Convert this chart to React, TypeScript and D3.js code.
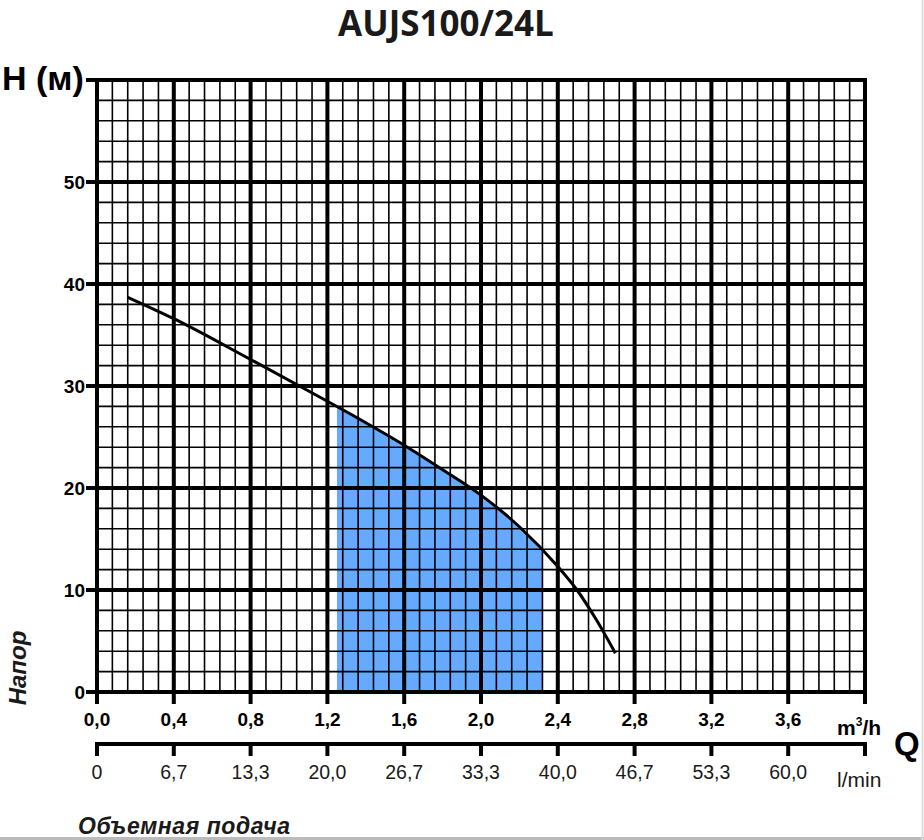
import React from 'react';
import * as d3 from 'd3';

// pump curve
const flowM3h = [0.16, 0.4, 0.8, 1.2, 1.4, 1.6, 1.8, 2.0, 2.2, 2.4, 2.5, 2.6, 2.7];
const headM = [38.7, 36.6, 32.6, 28.5, 26.4, 24.2, 21.8, 19.3, 16.2, 12.3, 10.0, 7.1, 3.8];

// working range (blue band)
const workRange = [1.25, 2.32];

const qTicks = [0, 0.4, 0.8, 1.2, 1.6, 2.0, 2.4, 2.8, 3.2, 3.6, 4.0];
const qLabels = ['0,0', '0,4', '0,8', '1,2', '1,6', '2,0', '2,4', '2,8', '3,2', '3,6'];
const lminLabels = ['0', '6,7', '13,3', '20,0', '26,7', '33,3', '40,0', '46,7', '53,3', '60,0'];
const hTicks = [0, 10, 20, 30, 40, 50, 60];
const hLabels = ['0', '10', '20', '30', '40', '50'];

const W = 924;
const H = 840;
const left = 97, right = 865, top = 80, bottom = 692;

const FONT = '"Liberation Sans", Arial, sans-serif';

export default function App() {
  const x = d3.scaleLinear().domain([0, 4]).range([left, right]);
  const y = d3.scaleLinear().domain([0, 60]).range([bottom, top]);

  const pts = flowM3h.map((q, i) => [q, headM[i]] as [number, number]);
  const line = d3.line<[number, number]>()
    .x(d => x(d[0]))
    .y(d => y(d[1]))
    .curve(d3.curveMonotoneX);
  const area = d3.area<[number, number]>()
    .x(d => x(d[0]))
    .y0(y(0))
    .y1(d => y(d[1]))
    .curve(d3.curveMonotoneX);

  const minorX = d3.range(0, 51).map(i => i * 0.08).filter((_, i) => i % 5 !== 0);
  const minorY = d3.range(0, 31).map(i => i * 2).filter((_, i) => i % 5 !== 0);
  const lowAxisY = 744;

  return (
    <svg width={W} height={H} style={{ position: 'fixed', left: 0, top: 0, background: '#fff' }}>
      <defs>
        <clipPath id="work">
          <rect x={x(workRange[0])} y={top} width={x(workRange[1]) - x(workRange[0])} height={bottom - top} />
        </clipPath>
      </defs>

      <text x={446} y={36} textAnchor="middle" fontFamily='"Open Sans", sans-serif' fontWeight={700}
        fontSize={35} fill="#1a1a1a">AUJS100/24L</text>

      <path d={area(pts) || ''} fill="#66aaff" clipPath="url(#work)" />

      {/* minor grid */}
      {minorX.map(q => (
        <line key={'mx' + q} x1={x(q)} x2={x(q)} y1={top} y2={bottom} stroke="#000" strokeWidth={1.6} />
      ))}
      {minorY.map(h => (
        <line key={'my' + h} x1={left} x2={right} y1={y(h)} y2={y(h)} stroke="#000" strokeWidth={1.6} />
      ))}

      {/* major grid with ticks sticking out */}
      {qTicks.map(q => (
        <line key={'Mx' + q} x1={x(q)} x2={x(q)} y1={top - 2} y2={bottom + 12} stroke="#000" strokeWidth={4} />
      ))}
      {hTicks.map(h => (
        <line key={'My' + h} x1={left - 11} x2={right + 2} y1={y(h)} y2={y(h)} stroke="#000" strokeWidth={4} />
      ))}

      <path d={line(pts) || ''} fill="none" stroke="#000" strokeWidth={3} />

      {/* y labels */}
      {hLabels.map((t, i) => (
        <text key={'hl' + t} x={85} y={y(hTicks[i]) + 7} textAnchor="end" fontFamily={FONT}
          fontWeight={700} fontSize={19}>{t}</text>
      ))}
      <text x={2} y={90} fontFamily={FONT} fontWeight={700} fontSize={34}>H (м)</text>
      <text transform="translate(26,668) rotate(-90)" textAnchor="middle" fontFamily={FONT}
        fontWeight={700} fontStyle="italic" fontSize={24} fill="#1a1a1a">Напор</text>

      {/* m3/h labels */}
      {qLabels.map((t, i) => (
        <text key={'ql' + t} x={x(qTicks[i])} y={726} textAnchor="middle" fontFamily={FONT}
          fontWeight={700} fontSize={19}>{t}</text>
      ))}
      <text x={837} y={735} fontFamily={FONT} fontWeight={700} fontSize={21}>
        m<tspan fontSize={12} dy={-9}>3</tspan><tspan dy={9}>/h</tspan>
      </text>
      <text x={894} y={755} fontFamily={FONT} fontWeight={700} fontSize={33}>Q</text>

      {/* l/min axis */}
      <line x1={left - 2} x2={right + 2} y1={lowAxisY} y2={lowAxisY} stroke="#000" strokeWidth={4} />
      {qTicks.map(q => (
        <line key={'lt' + q} x1={x(q)} x2={x(q)} y1={lowAxisY} y2={lowAxisY + 12} stroke="#000" strokeWidth={4} />
      ))}
      {lminLabels.map((t, i) => (
        <text key={'ll' + t} x={x(qTicks[i])} y={779} textAnchor="middle" fontFamily={FONT}
          fontSize={19.5} fill="#1a1a1a">{t}</text>
      ))}
      <text x={837} y={787} fontFamily={FONT} fontSize={21} fill="#1a1a1a">l/min</text>

      <text x={78} y={834} fontFamily={FONT} fontWeight={700} fontStyle="italic" fontSize={23}
        textLength={212} lengthAdjust="spacing" fill="#1a1a1a">Объемная подача</text>

      {/* scan border */}
      <line x1={0} x2={W} y1={838.5} y2={838.5} stroke="#bbb" strokeWidth={3} />
      <line x1={922.5} x2={922.5} y1={0} y2={H} stroke="#ddd" strokeWidth={2} />
    </svg>
  );
}
